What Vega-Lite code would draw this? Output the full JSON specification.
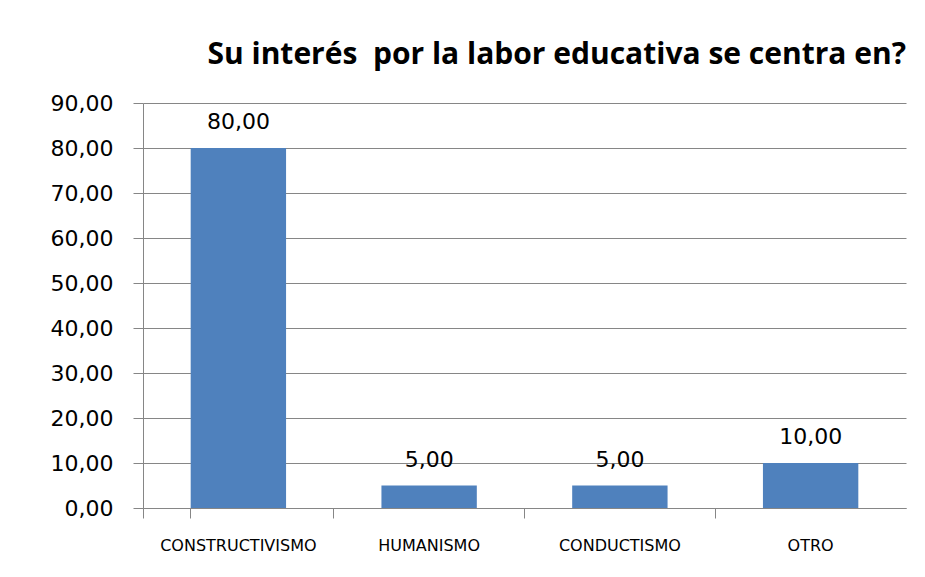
{
  "$schema": "https://vega.github.io/schema/vega-lite/v6.json",
  "width": 763,
  "height": 405,
  "autosize": {"type": "none"},
  "padding": {"left": 143, "top": 103, "right": 19, "bottom": 69},
  "background": "white",
  "title": {
    "text": "Su interés \u00a0por la labor educativa se centra en?",
    "anchor": "end",
    "frame": "group",
    "font": "Open Sans",
    "fontWeight": "bold",
    "fontSize": 30,
    "color": "#000000",
    "offset": 22
  },
  "data": {
    "values": [
      {"categoria": "CONSTRUCTIVISMO", "valor": 80},
      {"categoria": "HUMANISMO", "valor": 5},
      {"categoria": "CONDUCTISMO", "valor": 5},
      {"categoria": "OTRO", "valor": 10}
    ]
  },
  "encoding": {
    "x": {
      "field": "categoria",
      "type": "nominal",
      "sort": null,
      "scale": {"paddingInner": 0.5, "paddingOuter": 0.25},
      "axis": {
        "title": null,
        "labelAngle": 0,
        "labelFont": "DejaVu Sans",
        "labelFontSize": 16,
        "labelColor": "#000000",
        "labelPadding": 19,
        "grid": false,
        "ticks": true,
        "bandPosition": -0.5,
        "tickExtra": true,
        "tickSize": 10,
        "tickWidth": 1,
        "tickColor": "#868686",
        "domainColor": "#868686"
      }
    },
    "y": {
      "field": "valor",
      "type": "quantitative",
      "scale": {"domain": [0, 90], "nice": false},
      "axis": {
        "title": null,
        "values": [0, 10, 20, 30, 40, 50, 60, 70, 80, 90],
        "format": ".2f",
        "labelFont": "DejaVu Sans",
        "labelFontSize": 22,
        "labelColor": "#000000",
        "labelPadding": 20,
        "tickSize": 10,
        "tickColor": "#868686",
        "domainColor": "#868686",
        "gridColor": "#868686",
        "grid": true
      }
    }
  },
  "layer": [
    {"mark": {"type": "bar", "color": "#4F81BD"}},
    {
      "mark": {"type": "text", "dy": -26, "font": "DejaVu Sans", "fontSize": 22, "color": "#000000"},
      "encoding": {
        "text": {"field": "valor", "type": "quantitative", "format": ".2f"}
      }
    }
  ],
  "config": {
    "view": {"stroke": null},
    "locale": {
      "number": {"decimal": ",", "thousands": ".", "grouping": [3], "currency": ["", " €"]}
    }
  }
}
